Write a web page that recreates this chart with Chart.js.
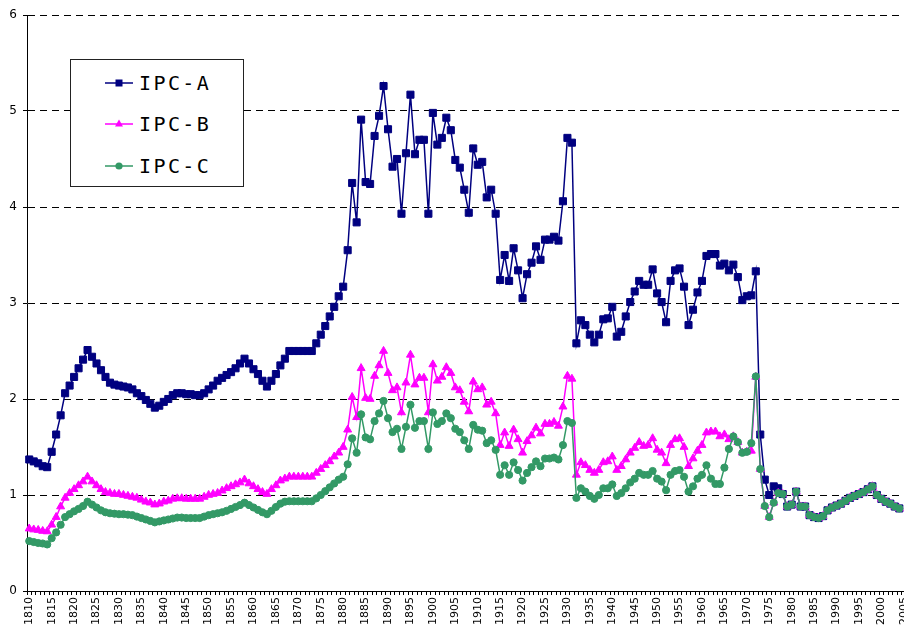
<!DOCTYPE html>
<html>
<head>
<meta charset="utf-8">
<script src="https://cdn.jsdelivr.net/npm/chart.js@4.4.0/dist/chart.umd.min.js"></script>
<style>
html,body{margin:0;padding:0;background:#fff;overflow:hidden;width:904px;height:633px;}
#chartdiv{position:absolute;left:0;top:0;width:919px;height:633px;}
#legenddiv{position:absolute;left:70px;top:59px;width:172px;height:126px;border:1px solid #222;background:#fff;}
.legrow{position:absolute;left:0;height:30px;width:172px;}
.legrow svg{position:absolute;left:33px;top:7px;}
.legrow span{position:absolute;left:68px;top:1px;font-family:"DejaVu Sans Mono",monospace;font-size:20px;letter-spacing:2.4px;color:#000;line-height:28px;}
</style>
</head>
<body>
<div id="chartdiv"><canvas id="myChart"></canvas></div>
<div id="legenddiv"></div>
<script>
// years 1810..2005, one category per year
var years=[];
for(var y=1810;y<=2005;y++){years.push(String(y));}

var seriesNames=['IPC-A','IPC-B','IPC-C'];
var seriesColors=['#000080','#ff00ff','#339966'];

var ipcA=[
1.37,1.35,1.33,1.30,1.29,1.45,1.63,1.83,2.06,2.14,
2.23,2.32,2.41,2.51,2.44,2.37,2.30,2.23,2.17,2.15,
2.14,2.13,2.12,2.10,2.06,2.03,1.99,1.95,1.91,1.93,
1.97,2.00,2.04,2.06,2.06,2.05,2.05,2.04,2.04,2.06,
2.10,2.14,2.19,2.22,2.25,2.28,2.32,2.37,2.42,2.37,
2.31,2.26,2.19,2.13,2.19,2.26,2.35,2.42,2.50,2.50,
2.50,2.50,2.50,2.50,2.58,2.67,2.76,2.86,2.96,3.07,
3.17,3.55,4.25,3.84,4.91,4.26,4.24,4.74,4.95,5.26,
4.81,4.42,4.50,3.93,4.56,5.17,4.55,4.70,4.70,3.93,
4.98,4.65,4.72,4.93,4.80,4.49,4.41,4.18,3.94,4.61,
4.44,4.47,4.10,4.18,3.93,3.24,3.50,3.23,3.57,3.34,
3.05,3.30,3.42,3.59,3.45,3.66,3.66,3.69,3.65,4.06,
4.72,4.67,2.58,2.82,2.77,2.67,2.59,2.67,2.83,2.84,
2.96,2.65,2.70,2.86,3.01,3.12,3.23,3.19,3.19,3.35,
3.10,3.01,2.80,3.23,3.34,3.36,3.17,2.77,2.93,3.11,
3.23,3.49,3.51,3.51,3.39,3.41,3.34,3.40,3.27,3.03,
3.07,3.08,3.33,1.63,1.16,1.00,1.09,1.07,1.01,0.88,
0.90,1.035,0.88,0.88,0.79,0.77,0.76,0.78,0.84,0.87,
0.89,0.91,0.94,0.97,0.99,1.01,1.03,1.06,1.09,1.00,
0.96,0.93,0.91,0.88,0.86,null];

var ipcB=[
0.65,0.64,0.635,0.625,0.62,0.69,0.77,0.88,0.97,1.02,
1.06,1.10,1.14,1.19,1.14,1.10,1.06,1.03,1.02,1.01,
1.01,1.00,0.99,0.98,0.97,0.95,0.93,0.92,0.90,0.91,
0.93,0.94,0.96,0.965,0.965,0.96,0.96,0.96,0.96,0.98,
1.00,1.01,1.02,1.045,1.07,1.09,1.11,1.13,1.16,1.12,
1.09,1.06,1.03,1.01,1.06,1.10,1.15,1.17,1.19,1.19,
1.19,1.19,1.19,1.19,1.23,1.27,1.31,1.35,1.40,1.44,
1.50,1.68,2.02,1.81,2.32,2.01,2.00,2.24,2.35,2.50,
2.27,2.09,2.12,1.86,2.17,2.46,2.15,2.22,2.22,1.86,
2.36,2.19,2.23,2.33,2.27,2.12,2.09,1.97,1.87,2.18,
2.10,2.12,1.94,1.97,1.85,1.52,1.65,1.51,1.68,1.58,
1.44,1.56,1.62,1.70,1.64,1.74,1.74,1.76,1.72,1.92,
2.24,2.21,1.21,1.34,1.31,1.26,1.23,1.26,1.34,1.35,
1.40,1.26,1.30,1.37,1.44,1.49,1.55,1.51,1.52,1.59,
1.47,1.44,1.33,1.52,1.58,1.59,1.50,1.30,1.38,1.46,
1.52,1.65,1.66,1.66,1.61,1.63,1.58,1.61,1.55,1.44,
1.45,1.46,2.23,1.27,0.885,0.77,0.92,1.02,1.01,0.88,
0.90,1.035,0.88,0.88,0.79,0.77,0.76,0.78,0.84,0.87,
0.89,0.91,0.94,0.97,0.99,1.01,1.03,1.06,1.09,1.00,
0.96,0.93,0.91,0.88,0.86,null];

var ipcC=[
0.52,0.51,0.50,0.495,0.485,0.55,0.61,0.69,0.77,0.80,
0.83,0.855,0.885,0.93,0.90,0.87,0.84,0.82,0.81,0.805,
0.80,0.80,0.795,0.79,0.775,0.76,0.745,0.73,0.715,0.725,
0.735,0.745,0.755,0.765,0.765,0.76,0.76,0.76,0.76,0.775,
0.79,0.80,0.81,0.82,0.835,0.855,0.875,0.895,0.92,0.895,
0.87,0.845,0.82,0.80,0.835,0.875,0.91,0.93,0.935,0.935,
0.935,0.935,0.935,0.935,0.965,1.00,1.04,1.08,1.12,1.16,
1.19,1.32,1.59,1.44,1.84,1.60,1.58,1.77,1.85,1.98,
1.80,1.655,1.69,1.48,1.71,1.94,1.70,1.77,1.77,1.48,
1.86,1.74,1.77,1.85,1.80,1.69,1.655,1.57,1.48,1.73,
1.68,1.67,1.54,1.57,1.47,1.21,1.31,1.21,1.34,1.26,
1.15,1.23,1.29,1.35,1.30,1.38,1.38,1.39,1.37,1.52,
1.77,1.75,0.97,1.07,1.035,0.99,0.96,1.00,1.07,1.07,
1.11,0.99,1.02,1.07,1.13,1.17,1.23,1.21,1.21,1.25,
1.17,1.14,1.05,1.21,1.25,1.26,1.19,1.035,1.09,1.17,
1.21,1.31,1.17,1.115,1.115,1.285,1.48,1.61,1.55,1.44,
1.45,1.54,2.235,1.27,0.885,0.77,0.92,1.02,1.01,0.88,
0.90,1.035,0.88,0.88,0.79,0.77,0.76,0.78,0.84,0.87,
0.89,0.91,0.94,0.97,0.99,1.01,1.03,1.06,1.09,1.00,
0.96,0.93,0.91,0.88,0.86,null];

var yTicks=[0,1,2,3,4,5,6];

var pointStyles=['rect','triangle','circle'];
var pointSizes=[5,4.6,3.6];

function makeDataset(ia,values){
	return {
		label:seriesNames[ia],
		data:values,
		borderColor:seriesColors[ia],
		backgroundColor:seriesColors[ia],
		borderWidth:1.5,
		pointStyle:pointStyles[ia],
		pointRadius:pointSizes[ia],
		pointBorderWidth:1,
		pointBorderColor:seriesColors[ia],
		pointBackgroundColor:seriesColors[ia],
		tension:0,
		spanGaps:false,
		order:3-ia //IPC-C drawn on top
	};
}

Chart.defaults.font.family='"DejaVu Sans", sans-serif';
Chart.defaults.color='#000';

var ctx=document.getElementById('myChart').getContext('2d');
var myChart=new Chart(ctx,{
	type:'line',
	data:{
		labels:years,
		datasets:[makeDataset(0,ipcA),makeDataset(1,ipcB),makeDataset(2,ipcC)]
	},
	options:{
		responsive:true,
		maintainAspectRatio:false,
		animation:false,
		layout:{padding:{left:0,right:5,top:15,bottom:0}},
		plugins:{
			legend:{display:false},
			tooltip:{enabled:false}
		},
		scales:{
			x:{
				type:'category',
				offset:true,
				grid:{display:true,drawOnChartArea:false,drawTicks:true,tickLength:4,color:'#000',offset:true},
				border:{display:true,color:'#000',width:1},
				ticks:{
					autoSkip:false,
					minRotation:90,
					maxRotation:90,
					padding:2,
					font:{size:11},
					callback:function(val,idx){
						var yr=parseInt(years[idx]);
						return (yr%5==0)?years[idx]:'';
					}
				},
				afterFit:function(scale){scale.height=42;}
			},
			y:{
				min:0,
				max:6,
				afterBuildTicks:function(scale){
					scale.ticks=yTicks.map(function(v){return {value:v};});
				},
				grid:{color:'#000',lineWidth:1,tickLength:4,drawTicks:true,tickColor:'#000'},
				border:{display:true,color:'#000',width:1,dash:[7,5]},
				ticks:{padding:6,font:{size:12}},
				afterFit:function(scale){scale.width=27;}
			}
		}
	}
});

// legend box drawn as html, same colors and markers as the datasets
function markerSvg(ia){
	var c=seriesColors[ia];
	var s='<svg width="30" height="16" xmlns="http://www.w3.org/2000/svg">';
	s+='<line x1="1" y1="8" x2="29" y2="8" stroke="'+c+'" stroke-width="1.5"/>';
	if(pointStyles[ia]=='rect'){
		s+='<rect x="11.5" y="4.5" width="7" height="7" fill="'+c+'"/>';
	}else if(pointStyles[ia]=='triangle'){
		s+='<polygon points="15,3.5 19,10.5 11,10.5" fill="'+c+'"/>';
	}else{
		s+='<circle cx="15" cy="8" r="3.6" fill="'+c+'"/>';
	}
	s+='</svg>';
	return s;
}
var legdiv=document.getElementById('legenddiv');
var rowtops=[8,49,91];
for(var ia=0;ia<seriesNames.length;ia++){
	var row=document.createElement('div');
	row.className='legrow';
	row.style.top=rowtops[ia]+'px';
	row.innerHTML=markerSvg(ia)+'<span>'+seriesNames[ia]+'</span>';
	legdiv.appendChild(row);
}
</script>
</body>
</html>
